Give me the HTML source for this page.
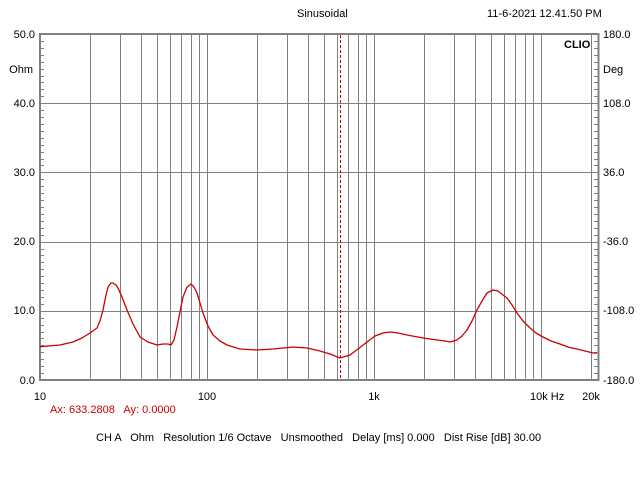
<!DOCTYPE html>
<html><head><meta charset="utf-8"><style>
html,body{margin:0;padding:0;background:#fff;}
svg{display:block;}
text{font-family:"Liberation Sans",sans-serif;font-size:11px;fill:#000;}
</style></head><body>
<svg width="640" height="480" viewBox="0 0 640 480" xmlns="http://www.w3.org/2000/svg">
<rect width="640" height="480" fill="#fff"/>
<g id="grid" stroke="#808080" stroke-width="1"></g>
<rect x="40" y="34" width="558.5" height="346" fill="none" stroke="#808080" stroke-width="2"/>
<g id="ticks" stroke="#808080" stroke-width="1"></g>
<line x1="340.5" y1="35" x2="340.5" y2="379" stroke="#cc0000" stroke-width="1" stroke-dasharray="3,2"/>
<polyline fill="none" stroke="#cc0000" stroke-width="1.3" stroke-linejoin="round" points="40,346.7 60,345 73,342 82,338 90,333 97,328 100,321 103,310 106,295 108,287 111,283 113,283 116,285 118,288 122,297 127,310 133,324 140,337 148,342 157,345 163,344 168,344 171,345 174,340 177,327 180,312 183,297 187,287 191,284 194,287 197,293 200,303 203,313 208,326 213,335 220,341 227,345 240,349 257,350 273,349 293,347 307,348 320,351 330,354 340,358 350,355 358,349 367,342 375,336 383,333 390,332 398,333 407,335 423,338 437,340 445,341 450,342 457,340 462,336 467,330 472,321 477,310 482,301 487,293 493,290 498,291 503,295 507,298 512,305 517,313 523,321 530,328 536,333 543,337 551,341 560,344 568,347 577,349 585,351 593,353 597,353"/>
<text x="297" y="17">Sinusoidal</text>
<text x="487" y="17">11-6-2021 12.41.50 PM</text>
<text x="564" y="48" style="font-weight:bold">CLIO</text>
<g text-anchor="end">
<text x="35" y="38">50.0</text>
<text x="33" y="73">Ohm</text>
<text x="35" y="107">40.0</text>
<text x="35" y="176">30.0</text>
<text x="35" y="245">20.0</text>
<text x="35" y="314">10.0</text>
<text x="35" y="384">0.0</text>
</g>
<g>
<text x="603" y="38">180.0</text>
<text x="603" y="73">Deg</text>
<text x="603" y="107">108.0</text>
<text x="603" y="176">36.0</text>
<text x="603" y="245">-36.0</text>
<text x="603" y="314">-108.0</text>
<text x="603" y="384">-180.0</text>
</g>
<g text-anchor="middle">
<text x="40" y="400">10</text>
<text x="207" y="400">100</text>
<text x="374" y="400">1k</text>
<text x="591" y="400">20k</text>
</g>
<text x="530" y="400">10k Hz</text>
<text x="50" y="413" xml:space="preserve" style="fill:#cc0000">Ax: 633.2808   Ay: 0.0000</text>
<text x="96" y="441" xml:space="preserve">CH A   Ohm   Resolution 1/6 Octave   Unsmoothed   Delay [ms] 0.000   Dist Rise [dB] 30.00</text>
</svg>
<script>
var g=document.getElementById('grid'),t=document.getElementById('ticks'),ns='http://www.w3.org/2000/svg';
function L(p,x1,y1,x2,y2){var l=document.createElementNS(ns,'line');l.setAttribute('x1',x1);l.setAttribute('y1',y1);l.setAttribute('x2',x2);l.setAttribute('y2',y2);p.appendChild(l);}
for(var d=10;d<=10000;d*=10){for(var m=1;m<10;m++){var f=d*m;if(f>20000)break;if(f==10)continue;var x=40+167*Math.log10(f/10);x=Math.round(x)+0.5;L(g,x,35,x,379);}}
L(g,591.5,35,591.5,379);
for(var o=10;o<50;o+=10){var y=Math.round(380-o*6.92)+0.5;L(g,41,y,598,y);}
for(var o=1;o<50;o++){var y=Math.round(380-o*6.92)+0.5;L(t,41,y,44,y);L(t,594,y,598,y);}
</script>
</body></html>
